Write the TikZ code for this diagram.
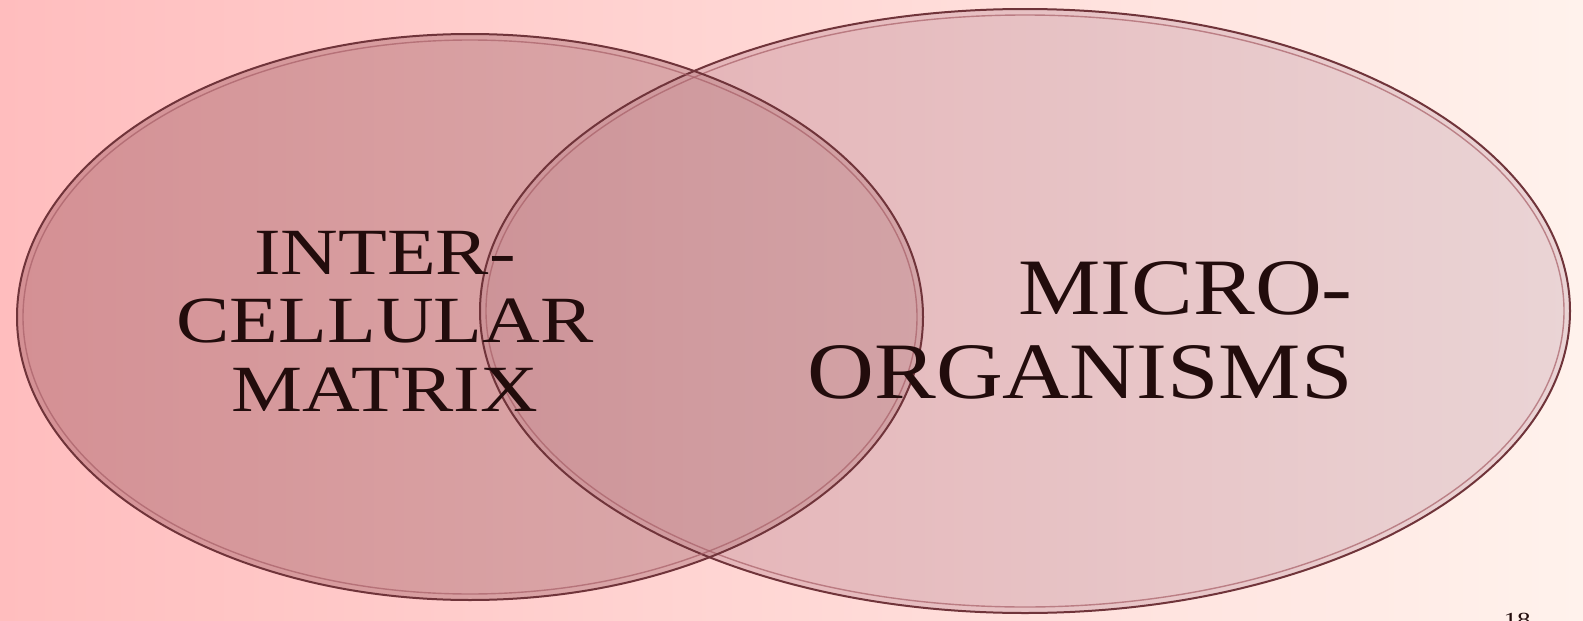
\documentclass[tikz,border=0pt]{standalone}
\usepackage{fontspec}
\setmainfont{Liberation Serif}
\usetikzlibrary{positioning}
\definecolor{bgl}{RGB}{255,189,190}
\definecolor{bgr}{RGB}{255,242,236}
\definecolor{lfill}{RGB}{184,114,120}
\definecolor{lfillr}{RGB}{198,146,150}
\definecolor{rfill}{RGB}{228,174,178}
\definecolor{rfillr}{RGB}{234,212,213}
\definecolor{rim}{RGB}{112,52,58}
\definecolor{rimin}{RGB}{168,96,104}
\definecolor{ink}{RGB}{34,12,12}
\tikzset{
  % thick rim plus a soft inner ring
  rimline/.style = {draw=rim, line width=2pt},
  rimsoft/.style = {draw=rimin, line width=1.4pt, draw opacity=0.7},
  lbl/.style     = {text=ink, inner sep=0pt, transform shape},
}

\begin{document}
\begin{tikzpicture}[x=1pt,y=-1pt]
\useasboundingbox (0,0) rectangle (1583,621);
\shade[left color=bgl, right color=bgr] (0,0) rectangle (1583,621);
% right circle
\shade[left color=rfill, right color=rfillr] (1025,311) ellipse (545 and 302);
% left circle, see-through
\shade[left color=lfill, right color=lfillr, opacity=0.6] (470,317) ellipse (453 and 283);
% rims
\draw[rimline] (1025,311) ellipse (545 and 302);
\draw[rimsoft] (1025,311) ellipse (539 and 296);
\draw[rimline] (470,317) ellipse (453 and 283);
\draw[rimsoft] (470,317) ellipse (447 and 277);
% labels
\node[lbl, xscale=1.21, align=center, font=\fontsize{66}{68.5}\selectfont] (matrix) at (385,321)
  {INTER-\\CELLULAR\\MATRIX};
\node[lbl, xscale=1.157, align=right, anchor=east, font=\fontsize{80}{84}\selectfont] (micro) at (1353,330)
  {MICRO-\\ORGANISMS};
\node[lbl, xscale=1.35, anchor=base, font=\fontsize{20}{24}\selectfont] (page) at (1517,626) {18};
\end{tikzpicture}
\end{document}
